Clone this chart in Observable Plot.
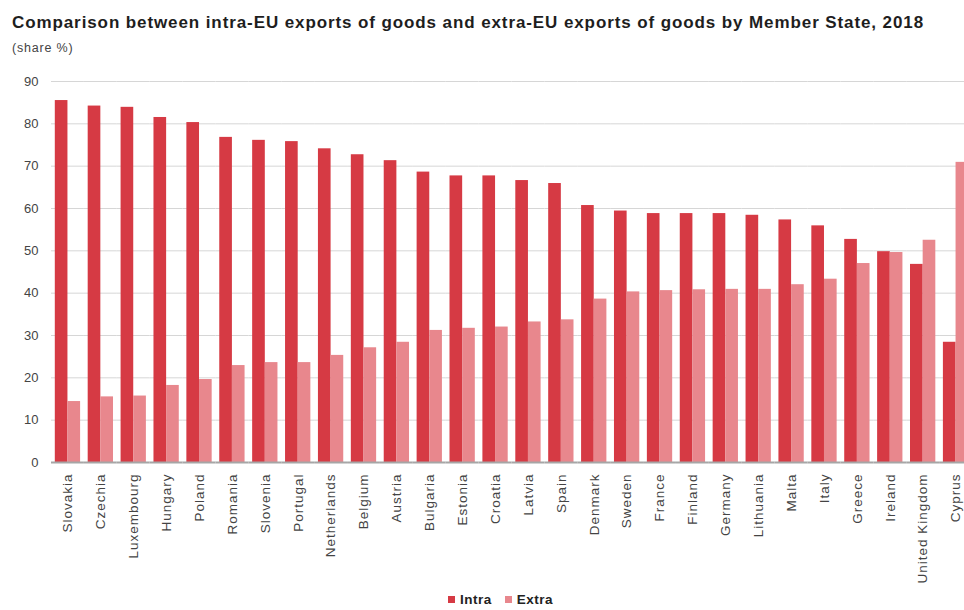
<!DOCTYPE html>
<html>
<head>
<meta charset="utf-8">
<script src="https://cdn.jsdelivr.net/npm/d3@7"></script>
<script src="https://cdn.jsdelivr.net/npm/@observablehq/plot@0.6"></script>
<style>
  body { margin: 0; background: #fff; overflow: hidden; font-family: "Liberation Sans", Arial, sans-serif; }
  #wrap { position: relative; width: 964px; height: 610px; overflow: hidden; }
  #title { position: absolute; left: 12px; top: 14px; line-height: 1; font-weight: bold; font-size: 17px; letter-spacing: 0.9px; color: #1e1e1e; white-space: nowrap; }
  #sub { position: absolute; left: 12px; top: 42px; line-height: 1; font-size: 12.5px; letter-spacing: 0.8px; color: #444; }
  #chart { position: absolute; left: 0; top: 56px; width: 975px; }
  #chart svg { max-width: none; }
  #chart g[aria-label="fx-axis tick label"] text { letter-spacing: 1px; }
  #legend { position: absolute; top: 593px; left: 448px; line-height: 1; font-size: 13.5px; font-weight: bold; letter-spacing: 0.5px; color: #222; display: flex; gap: 13px; }
  #legend span { display: inline-flex; align-items: center; gap: 5px; }
  #legend i { display: inline-block; width: 7px; height: 7px; }
</style>
</head>
<body>
<div id="wrap">
  <div id="title">Comparison between intra-EU exports of goods and extra-EU exports of goods by Member State, 2018</div>
  <div id="sub">(share %)</div>
  <div id="chart"></div>
  <div id="legend"></div>
</div>
<script>
// Member States, ordered by intra-EU share
const countries = ["Slovakia", "Czechia", "Luxembourg", "Hungary", "Poland", "Romania", "Slovenia", "Portugal",
  "Netherlands", "Belgium", "Austria", "Bulgaria", "Estonia", "Croatia", "Latvia", "Spain", "Denmark", "Sweden",
  "France", "Finland", "Germany", "Lithuania", "Malta", "Italy", "Greece", "Ireland", "United Kingdom", "Cyprus"];

// Share of exports going to other EU Member States (%)
const intra = [85.5, 84.2, 83.9, 81.5, 80.3, 76.8, 76.1, 75.8, 74.1, 72.7, 71.3, 68.6, 67.7, 67.7, 66.6, 65.9,
  60.7, 59.4, 58.8, 58.8, 58.8, 58.4, 57.3, 55.9, 52.7, 49.8, 46.8, 28.4];

// Share of exports going outside the EU (%)
const extra = [14.4, 15.5, 15.7, 18.2, 19.6, 22.9, 23.6, 23.6, 25.3, 27.1, 28.4, 31.2, 31.7, 32.0, 33.2, 33.7,
  38.6, 40.3, 40.6, 40.8, 40.9, 40.9, 42.0, 43.3, 47.0, 49.6, 52.5, 70.9];

const seriesNames = ["Intra", "Extra"];
const seriesColors = ["#d63a44", "#e8878d"];
const yTicks = [0, 10, 20, 30, 40, 50, 60, 70, 80, 90];

const rows = countries.flatMap((c, i) => [
  {country: c, series: "Intra", value: intra[i]},
  {country: c, series: "Extra", value: extra[i]}
]);

const chart = Plot.plot({
  width: 975,
  height: 534,
  marginLeft: 51,
  marginRight: 3,
  marginTop: 25,
  marginBottom: 128,
  style: {fontFamily: "Liberation Sans, Arial, sans-serif", color: "#444", background: "transparent"},
  fx: {domain: countries, padding: 0, round: false, label: null},
  x: {domain: seriesNames, paddingInner: 0, paddingOuter: 0.3, round: false, axis: null},
  y: {domain: [0, 90], label: null},
  color: {domain: seriesNames, range: seriesColors},
  marks: [
    Plot.gridY(yTicks.filter(d => d > 0), {stroke: "#d6d6d6", strokeOpacity: 1}),
    Plot.barY(rows, {fx: "country", x: "series", y: "value", fill: "series"}),
    Plot.ruleY([0], {stroke: "#a6a6a6", strokeWidth: 1.8}),
    Plot.axisY(yTicks, {tickSize: 0, tickPadding: 13, fontSize: 13, label: null}),
    Plot.axisFx({anchor: "bottom", tickRotate: -90, tickSize: 0, tickPadding: 11, fontSize: 13.5, label: null})
  ]
});
document.getElementById("chart").appendChild(chart);

const legend = document.getElementById("legend");
seriesNames.forEach((s, i) => {
  const el = document.createElement("span");
  el.innerHTML = `<i style="background:${seriesColors[i]}"></i>${s}`;
  legend.appendChild(el);
});
</script>
</body>
</html>
